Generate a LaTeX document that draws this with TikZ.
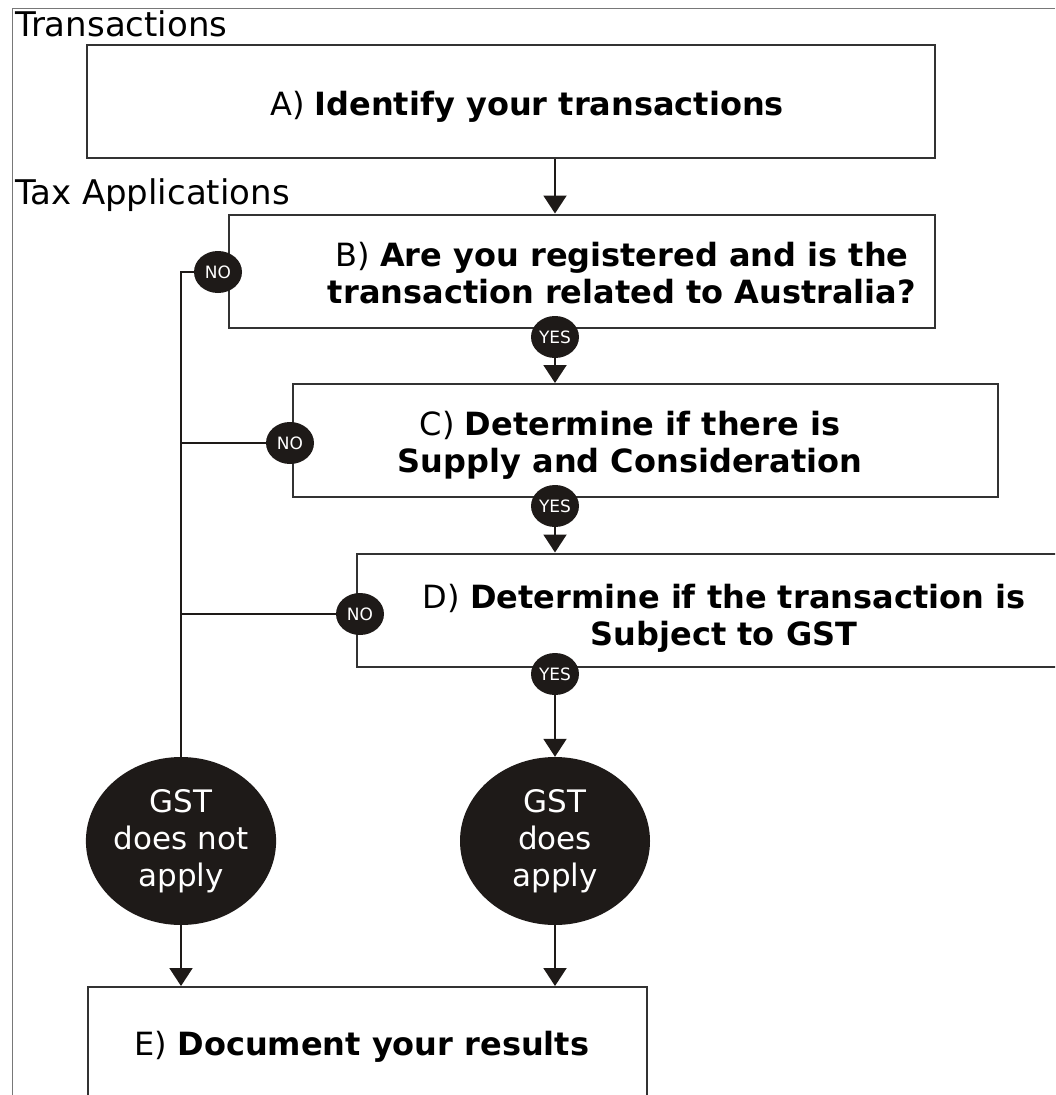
\documentclass[tikz,border=0pt]{standalone}
\usepackage{fontspec}
\setmainfont{DejaVu Sans}
\usetikzlibrary{arrows.meta, positioning, shapes.geometric}
\definecolor{chartInk}{RGB}{30,26,24}
\definecolor{frameGray}{RGB}{120,120,120}
\definecolor{boxEdge}{RGB}{50,50,50}

\begin{document}
\begin{tikzpicture}[x=1pt, y=-1pt,
    stepbox/.style={draw=boxEdge, line width=2pt, minimum height=113pt, inner sep=0pt},
    boxtext/.style={font=\fontsize{32}{37}\selectfont, align=center, inner sep=0pt},
    answer/.style={ellipse, fill=chartInk, text=white, minimum width=48pt, minimum height=42pt, inner sep=0pt, font=\fontsize{17}{20}\selectfont},
    outcome/.style={ellipse, fill=chartInk, text=white, minimum width=190pt, minimum height=168pt, inner sep=0pt, align=center, font=\fontsize{31}{37}\selectfont},
    heading/.style={anchor=base west, inner sep=0pt, font=\fontsize{34}{40}\selectfont},
    arrow/.style={-{Triangle[width=23pt, length=18pt]}, line width=2pt, draw=chartInk},
    link/.style={line width=2pt, draw=chartInk}
]
\clip (0,0) rectangle (1055,1095);

% frame and headings
\draw[frameGray, line width=1pt] (1055,8) -- (12.5,8) -- (12.5,1095);
\node[heading] (hdTrans) at (15,36) {Transactions};
\node[heading] (hdTax) at (15,204) {Tax Applications};

% steps
\node[stepbox, minimum width=848pt] (boxA) at (511,101.5) {};
\node[stepbox, minimum width=706pt] (boxB) at (582,271) {};
\node[stepbox, minimum width=705pt] (boxC) at (645.5,440.5) {};
\node[stepbox, minimum width=705pt] (boxD) at (709.5,610) {};
\node[stepbox, minimum width=559pt] (boxE) at (367.5,1043.5) {};

\node[boxtext, anchor=base] (txtA) at (527,115) {A) \textbf{Identify your transactions}};
\node[boxtext, anchor=base] (txtB) at (622,303) {B) \textbf{Are you registered and is the}\\\textbf{transaction related to Australia?}};
\node[boxtext, anchor=base] (txtC) at (630,472) {C) \textbf{Determine if there is}\\\textbf{Supply and Consideration}};
\node[boxtext, anchor=base] (txtD) at (724,645) {D) \textbf{Determine if the transaction is}\\\textbf{Subject to GST}};
\node[boxtext, anchor=base] (txtE) at (362,1055) {E) \textbf{Document your results}};

% yes / no markers
\node[answer] (noB) at (218,272) {NO};
\node[answer] (noC) at (290,443) {NO};
\node[answer] (noD) at (360,614) {NO};
\node[answer] (yesB) at (555,337) {YES};
\node[answer] (yesC) at (555,506) {YES};
\node[answer] (yesD) at (555,674) {YES};

% outcomes
\node[outcome] (gstNot) at (181,841) {GST\\does not\\apply};
\node[outcome] (gstYes) at (555,841) {GST\\does\\apply};

% connectors
\draw[arrow] (yesB |- boxA.south) -- (yesB |- boxB.north);
\draw[arrow] (yesB) -- (yesB |- boxC.north);
\draw[arrow] (yesC) -- (yesC |- boxD.north);
\draw[arrow] (yesD) -- (gstYes);
\draw[link] (noB) -| (gstNot);
\draw[link] (noC) -- (noC -| gstNot);
\draw[link] (noD) -- (noD -| gstNot);
\draw[arrow] (gstNot) -- (gstNot |- boxE.north);
\draw[arrow] (gstYes) -- (gstYes |- boxE.north);
\end{tikzpicture}
\end{document}
